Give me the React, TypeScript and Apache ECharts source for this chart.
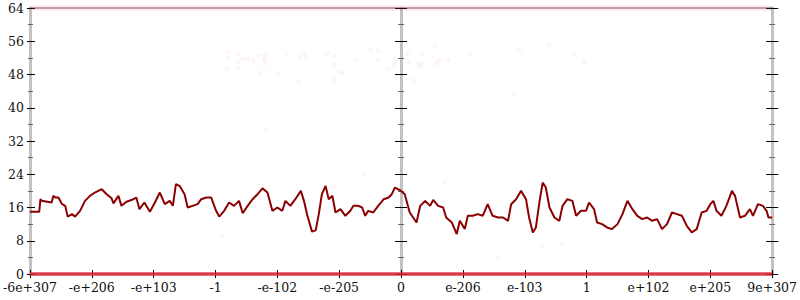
import React, { useEffect, useRef } from 'react';
import * as echarts from 'echarts';

const xTickLabels = ['-6e+307', '-e+206', '-e+103', '-1', '-e-102', '-e-205', '0', 'e-206', 'e-103', '1', 'e+102', 'e+205', '9e+307'];

const lineX = [
  -6.00, -5.85, -5.83, -5.81, -5.65, -5.62, -5.59, -5.54, -5.48, -5.43, -5.39, -5.32, -5.27, -5.19, -5.11, -5.03,
  -4.95, -4.84, -4.76, -4.68, -4.65, -4.57, -4.52, -4.44, -4.36, -4.28, -4.23, -4.15, -4.06, -3.98, -3.90, -3.82,
  -3.74, -3.69, -3.64, -3.58, -3.50, -3.45, -3.37, -3.29, -3.23, -3.15, -3.07, -2.99, -2.94, -2.86, -2.78, -2.70,
  -2.62, -2.56, -2.48, -2.40, -2.32, -2.24, -2.16, -2.08, -2.00, -1.92, -1.87, -1.79, -1.71, -1.62, -1.57, -1.52,
  -1.44, -1.38, -1.33, -1.28, -1.22, -1.17, -1.11, -1.06, -0.98, -0.90, -0.82, -0.77, -0.69, -0.63, -0.58, -0.53,
  -0.45, -0.37, -0.28, -0.20, -0.15, -0.10, -0.02, 0.06, 0.14,
  0.25, 0.31, 0.39, 0.47, 0.52, 0.60, 0.68, 0.73, 0.82, 0.90, 0.95, 1.03, 1.08, 1.16, 1.24, 1.32, 1.40, 1.48,
  1.57, 1.65, 1.73, 1.78, 1.86, 1.94, 2.02, 2.07, 2.13, 2.18, 2.24, 2.29, 2.34, 2.40, 2.48, 2.56, 2.61, 2.69,
  2.77, 2.83, 2.91, 2.99, 3.04, 3.12, 3.17, 3.25, 3.33, 3.41, 3.50, 3.58, 3.66, 3.74, 3.82, 3.90, 3.98, 4.06,
  4.14, 4.22, 4.30, 4.38, 4.46, 4.54, 4.62, 4.70, 4.78, 4.86, 4.94, 5.00, 5.05, 5.10, 5.18, 5.26, 5.35, 5.40,
  5.48, 5.56, 5.64, 5.69, 5.77, 5.85, 5.91, 5.94, 6.00,
];
const lineY = [
  15.0, 15.0, 18.0, 17.6, 17.2, 18.8, 18.4, 18.4, 16.8, 16.4, 13.8, 14.4, 13.8, 15.2, 17.6, 18.8,
  19.6, 20.4, 19.2, 18.2, 17.0, 18.8, 16.4, 17.4, 17.8, 18.4, 15.6, 17.2, 15.0, 17.2, 19.6, 16.8,
  17.6, 16.4, 21.6, 21.2, 19.2, 16.0, 16.4, 16.8, 18.0, 18.4, 18.4, 15.2, 13.8, 15.2, 17.2, 16.4,
  17.6, 14.6, 16.4, 18.0, 19.2, 20.6, 19.6, 15.2, 16.0, 15.2, 17.6, 16.4, 18.0, 20.0, 17.6, 14.4,
  10.2, 10.5, 14.4, 19.2, 21.2, 18.0, 18.8, 14.8, 15.6, 14.0, 15.2, 16.4, 16.4, 16.0, 14.0, 15.2,
  14.8, 16.4, 18.0, 18.4, 19.2, 20.8, 20.2, 19.2, 14.8,
  12.4, 16.4, 17.6, 16.4, 17.8, 16.4, 16.0, 13.6, 12.4, 9.6, 12.8, 10.8, 14.0, 14.0, 14.4, 14.0, 16.8, 14.0,
  13.6, 13.6, 12.8, 16.8, 18.0, 20.0, 18.0, 13.6, 10.0, 11.2, 17.6, 22.0, 20.8, 16.0, 13.6, 12.8, 16.4, 18.0,
  17.6, 14.0, 15.2, 15.2, 17.2, 15.6, 12.4, 12.0, 11.2, 10.8, 12.0, 14.4, 17.6, 15.6, 14.0, 13.2, 13.6, 12.8,
  13.2, 10.8, 12.0, 14.8, 14.4, 14.0, 11.6, 10.0, 10.8, 14.8, 15.2, 16.8, 17.6, 15.2, 14.0, 16.4, 20.0, 18.8,
  13.6, 14.0, 15.6, 14.0, 16.8, 16.4, 15.2, 13.6, 13.6,
];

const cloudX = [
  -2.80, -2.81, -2.62, -2.56, -2.64, -2.48, -2.39, -2.30, -2.19, -2.21, -2.19, -2.81, -2.62, -2.27, -1.99, -1.83,
  -1.64, -1.56, -1.54, -1.65, -1.20, -1.07, -1.09, -0.98, -0.94, -1.08, -0.74, -0.49, -0.37, -0.38, -0.20, -0.11,
  -0.10, 0.10, 0.12, 0.20, 0.26, 0.33, 0.32, 0.35, 0.55, 0.57, 0.61, 0.76, 1.11, 1.91, 2.40, 2.80, 2.96, 1.83,
  -2.19, -0.61, -1.11, -2.88, 0.71, 2.27, 2.59, 1.56,
];
const cloudY = [
  53.5, 52.1, 53.1, 51.9, 51.1, 51.7, 51.3, 52.5, 52.5, 51.5, 50.7, 49.3, 49.5, 48.4, 48.3, 52.5,
  52.1, 52.9, 52.1, 46.2, 53.1, 52.5, 50.5, 48.5, 48.3, 46.7, 51.5, 53.9, 53.7, 51.7, 49.3, 50.5,
  51.9, 53.1, 50.8, 46.5, 50.5, 50.7, 49.9, 53.1, 55.0, 50.7, 51.3, 51.5, 52.7, 53.9, 55.1, 52.7, 51.0, 43.1,
  34.6, 23.8, 20.9, 9.1, 22.1, 6.5, 7.2, 3.8,
];

const bandTopX = [-6, 6];
const bandTopY = [64, 64];
const bandBottomX = [-6, 6];
const bandBottomY = [0, 0];

const zip = (xs: number[], ys: number[]) => xs.map((x, i) => [x, ys[i]]);

const FONT = "'DejaVu Serif', serif";
const AXIS_GRAY = '#c2c2c2';

function yAxisDef(opts: {
  position: 'left' | 'right';
  onZero: boolean;
  inside: boolean;
  len: number;
  minorLen: number;
  line: boolean;
  labels: boolean;
}) {
  return {
    type: 'value',
    min: 0,
    max: 64,
    interval: 8,
    position: opts.position,
    axisLine: {
      show: opts.line,
      onZero: opts.onZero,
      onZeroAxisIndex: 0,
      lineStyle: { color: AXIS_GRAY, width: 3 },
    },
    axisTick: { show: true, inside: opts.inside, length: opts.len, lineStyle: { color: '#000', width: 1 } },
    minorTick: { show: true, splitNumber: 2, length: opts.minorLen, lineStyle: { color: '#666', width: 1 } },
    axisLabel: {
      show: opts.labels,
      margin: 6,
      color: '#111',
      fontFamily: FONT,
      fontSize: 12.5,
    },
    splitLine: { show: false },
    minorSplitLine: { show: false },
  };
}

export default function App() {
  const ref = useRef<HTMLDivElement>(null);
  useEffect(() => {
    if (!ref.current) return;
    const chart = echarts.init(ref.current, undefined, { renderer: 'svg' });
    chart.setOption({
      animation: false,
      backgroundColor: '#fff',
      grid: { left: 28, right: 26, top: 8, bottom: 26, containLabel: false },
      xAxis: [
        {
          type: 'value',
          min: -6,
          max: 6,
          interval: 1,
          position: 'bottom',
          axisLine: { show: true, onZero: false, lineStyle: { color: AXIS_GRAY, width: 2 } },
          axisTick: { show: true, inside: false, length: 4, lineStyle: { color: '#000', width: 1 } },
          axisLabel: {
            margin: 7,
            color: '#111',
            fontFamily: FONT,
            fontSize: 12.5,
            formatter: (v: number) => xTickLabels[Math.round(v + 6)] ?? '',
          },
          splitLine: { show: false },
        },
        {
          type: 'value',
          min: -6,
          max: 6,
          interval: 1,
          position: 'bottom',
          axisLine: { show: false, onZero: false },
          axisTick: { show: true, inside: true, length: 4, lineStyle: { color: '#000', width: 1 } },
          axisLabel: { show: false },
          splitLine: { show: false },
        },
        {
          type: 'value',
          min: -6,
          max: 6,
          interval: 1,
          position: 'top',
          axisLine: { show: true, onZero: false, lineStyle: { color: '#9a9a9a', width: 1.5 } },
          axisTick: { show: false },
          axisLabel: { show: false },
          splitLine: { show: false },
        },
      ],
      yAxis: [
        yAxisDef({ position: 'left', onZero: false, inside: false, len: 3, minorLen: 2, line: true, labels: true }),
        yAxisDef({ position: 'left', onZero: false, inside: true, len: 5, minorLen: 3, line: false, labels: false }),
        yAxisDef({ position: 'left', onZero: true, inside: false, len: 6, minorLen: 3, line: true, labels: false }),
        yAxisDef({ position: 'left', onZero: true, inside: true, len: 6, minorLen: 3, line: false, labels: false }),
        yAxisDef({ position: 'right', onZero: false, inside: false, len: 6, minorLen: 3, line: true, labels: false }),
        yAxisDef({ position: 'right', onZero: false, inside: true, len: 6, minorLen: 3, line: false, labels: false }),
      ],
      series: [
        {
          name: 'bandTop',
          type: 'line',
          xAxisIndex: 0,
          yAxisIndex: 0,
          data: zip(bandTopX, bandTopY),
          symbol: 'none',
          clip: false,
          silent: true,
          lineStyle: { color: 'rgba(240,80,100,0.14)', width: 5 },
          z: 1,
        },
        {
          name: 'cloud',
          type: 'scatter',
          xAxisIndex: 0,
          yAxisIndex: 0,
          data: zip(cloudX, cloudY),
          symbol: 'circle',
          symbolSize: 5,
          silent: true,
          itemStyle: { color: 'rgba(240,70,90,0.07)' },
          z: 1,
        },
        {
          name: 'bandBottom',
          type: 'line',
          xAxisIndex: 0,
          yAxisIndex: 0,
          data: zip(bandBottomX, bandBottomY),
          symbol: 'none',
          clip: false,
          silent: true,
          lineStyle: { color: 'rgba(220,35,50,0.85)', width: 3.5 },
          z: 3,
        },
        {
          name: 'walk',
          type: 'line',
          xAxisIndex: 0,
          yAxisIndex: 0,
          data: zip(lineX, lineY),
          symbol: 'none',
          lineStyle: { color: '#8b0000', width: 2 },
          z: 4,
        },
      ],
    });
    return () => chart.dispose();
  }, []);
  return (
    <div
      ref={ref}
      style={{ position: 'absolute', left: 0, top: 0, width: 800, height: 300 }}
    />
  );
}
